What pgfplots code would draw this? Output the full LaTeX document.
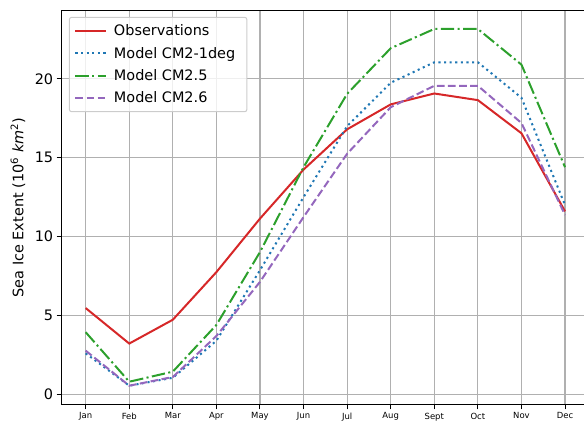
\documentclass[border=0pt]{standalone}
\usepackage{fontspec}
\setmainfont{DejaVu Sans}
\usepackage{pgfplots}
\pgfplotsset{compat=1.18}
\definecolor{obsred}{HTML}{D62728}
\definecolor{cmblue}{HTML}{1F77B4}
\definecolor{cmgreen}{HTML}{2CA02C}
\definecolor{cmpurple}{HTML}{9467BD}
\definecolor{gridgray}{HTML}{B0B0B0}
\definecolor{legframe}{HTML}{CCCCCC}

\begin{document}
\begin{tikzpicture}
\path[use as bounding box] (0,0) rectangle (584bp,422bp);
\clip (0,0) rectangle (584bp,422bp);
\begin{axis}[
    at={(61.7bp,17.7bp)}, anchor=south west,
    scale only axis, width=527.3bp, height=393.3bp,
    xmin=-0.55, xmax=11.55, ymin=-0.63, ymax=24.3,
    xtick={0,...,11},
    xticklabels={Jan,Feb,Mar,Apr,May,Jun,Jul,Aug,Sept,Oct,Nov,Dec},
    ytick={0,5,10,15,20},
    tick align=outside, tick pos=left,
    major tick length=5bp,
    grid=major,
    grid style={gridgray, line width=1.1bp},
    axis line style={black, line width=1bp},
    tick style={black, line width=1bp},
    /pgf/number format/assume math mode=true,
    yticklabel style={font=\fontsize{14.5}{17}\selectfont},
    xticklabel style={font=\fontsize{8.5}{10}\selectfont},
    ylabel={Sea Ice Extent (10\textsuperscript{6} \textit{km}\textsuperscript{2})},
    ylabel style={font=\fontsize{14.5}{17}\selectfont, at={(axis description cs:-0.083,0.5)}, anchor=center},
    legend cell align=left,
    legend image code/.code={\draw[#1] (0bp,0bp) -- (31bp,0bp);},
    legend style={at={(0.0138,0.985)}, anchor=north west,
        draw=legframe, line width=1bp, fill=white, fill opacity=0.8, text opacity=1,
        rounded corners=2bp, font=\fontsize{14.5}{17}\selectfont,
        inner xsep=5bp, inner ysep=5.5bp, row sep=5.8bp,
        nodes={inner xsep=6.5bp, inner ysep=2bp}},
]
\addplot[obsred, line width=2bp] coordinates {
    (0,5.47) (1,3.22) (2,4.73) (3,7.75) (4,11.14) (5,14.25)
    (6,16.8) (7,18.38) (8,19.07) (9,18.65) (10,16.55) (11,11.6)
};
\addlegendentry{Observations}
\addplot[cmblue, line width=2bp, dash pattern=on 2.1bp off 3.5bp] coordinates {
    (0,2.6) (1,0.55) (2,1.05) (3,3.4) (4,7.87) (5,12.5)
    (6,17.0) (7,19.75) (8,21.05) (9,21.05) (10,18.8) (11,12.0)
};
\addlegendentry{Model CM2-1deg}
\addplot[cmgreen, line width=2bp, dash pattern=on 13.4bp off 3.4bp on 2.1bp off 3.4bp] coordinates {
    (0,3.94) (1,0.8) (2,1.44) (3,4.4) (4,9.02) (5,14.4)
    (6,19.05) (7,21.94) (8,23.16) (9,23.16) (10,20.9) (11,14.4)
};
\addlegendentry{Model CM2.5}
\addplot[cmpurple, line width=2bp, dash pattern=on 7.7bp off 3.4bp] coordinates {
    (0,2.77) (1,0.55) (2,1.1) (3,3.7) (4,7.13) (5,11.24)
    (6,15.25) (7,18.2) (8,19.56) (9,19.56) (10,17.2) (11,11.37)
};
\addlegendentry{Model CM2.6}
\end{axis}
\end{tikzpicture}
\end{document}
